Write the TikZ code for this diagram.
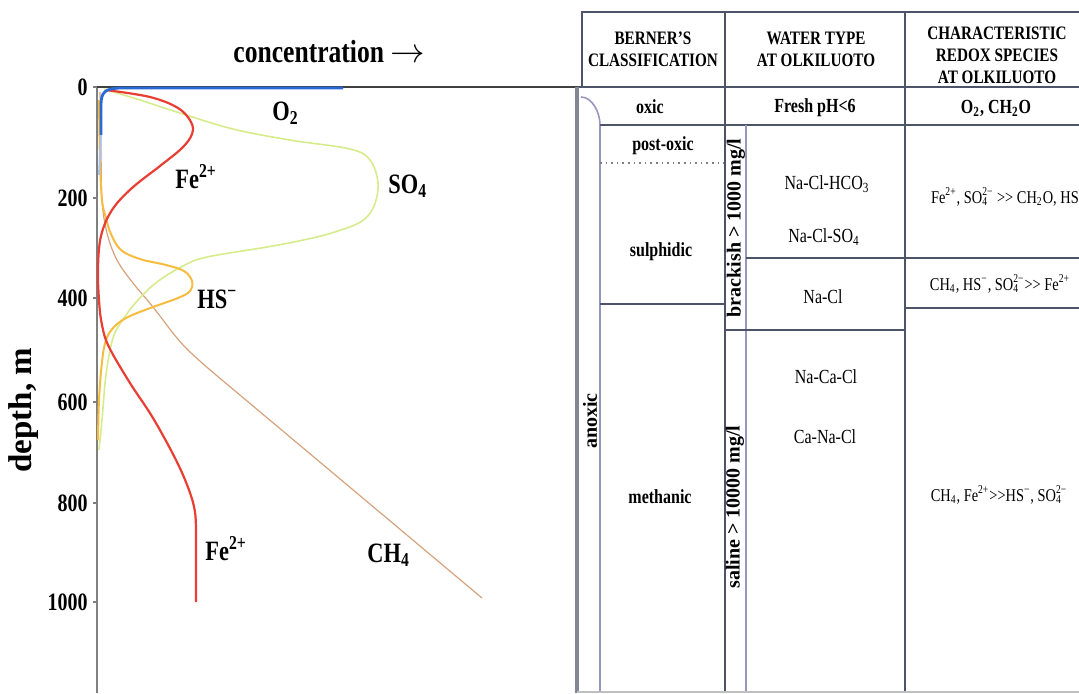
\documentclass[tikz,border=0pt]{standalone}
\usepackage{fontspec}
\setmainfont{Liberation Serif}[FakeStretch=0.8]
\newfontfamily\rotserif{Liberation Serif}

\definecolor{oxyblue}{RGB}{40,105,215}
\definecolor{ironred}{RGB}{232,62,52}
\definecolor{sulfgreen}{RGB}{214,236,140}
\definecolor{hsorange}{RGB}{246,188,64}
\definecolor{methtan}{RGB}{214,162,124}
\definecolor{gridline}{RGB}{78,84,104}
\definecolor{softline}{RGB}{150,150,190}

\newcommand{\supsub}[2]{\rlap{\textsubscript{#2}}\textsuperscript{#1}}
\newcommand{\ggt}{>{}>}

\begin{document}
\begin{tikzpicture}[x=0.5pt, y=-0.5pt,
    tbl/.style={draw=gridline, line width=1pt},
    softtbl/.style={draw=softline, line width=0.8pt},
    hdr/.style={font=\bfseries\fontsize{9.5}{11}\selectfont, align=center},
    cell/.style={font=\fontsize{10}{12}\selectfont},
    bcell/.style={font=\bfseries\fontsize{10}{12}\selectfont},
    rcell/.style={font=\fontsize{9}{11}\selectfont},
    vcell/.style={font=\rotserif\bfseries\fontsize{10}{12}\selectfont, rotate=90},
    species/.style={font=\bfseries\fontsize{14}{16}\selectfont, anchor=base west, inner sep=0pt},
    ticklbl/.style={font=\bfseries\fontsize{12.5}{14}\selectfont, anchor=east, inner sep=1pt}]

    \useasboundingbox (0,0) rectangle (1079,693);
    \clip (0,0) rectangle (1079,693);

    % axes of the profile plot
    \draw[gray, line width=0.8pt] (97,87) -- (97,693);
    \draw[black!75, line width=0.8pt] (97,87) -- (577,87);
    \foreach \d/\y in {0/87,200/198,400/298,600/402,800/503,1000/602}{
        \draw[gray, line width=0.8pt] (93,\y) -- (97,\y);
        \node[ticklbl] (tick\d) at (90,\y) {\d};
    }
    \node[font=\bfseries\fontsize{16}{19}\selectfont, anchor=base west, inner sep=0pt] (conc) at (233,62) {concentration $\rightarrow$};
    \node[font=\rotserif\bfseries\fontsize{16.5}{19}\selectfont, rotate=90] (depth) at (24,410) {depth, m};

    % concentration profiles
    \draw[methtan, line width=0.6pt] plot[smooth, tension=0.6] coordinates
        {(100,92) (101,150) (102,200) (107,233) (117,260) (133,283) (153,307) (185,347) (228,385)} -- (482,598);
    \draw[sulfgreen, line width=0.8pt] plot[smooth, tension=0.6] coordinates
        {(104,89) (140,100) (180,113) (233,129) (290,140) (350,149) (370,160) (378,183) (374,206) (362,221) (338,231) (308,239) (267,247) (207,257) (183,266) (157,282) (138,300) (124,318) (113,338) (106,375) (102,420) (99,450)};
    \draw[hsorange, line width=1pt] plot[smooth, tension=0.6] coordinates
        {(99,100) (100,160) (102,200) (106,218) (111,234) (121,250) (140,259) (166,265) (184,271) (192,281) (190,291) (178,298) (153,307) (128,317) (114,327) (106,340) (102,362) (99,400) (98,440)};
    \draw[ironred, line width=1.1pt] plot[smooth, tension=0.6] coordinates
        {(106,90) (150,97) (178,108) (191,122) (192,134) (182,148) (160,166) (132,188) (112,210) (101,236) (98,268) (99,300) (102,325) (109,347) (130,383) (153,418) (176,460) (189,490) (195,512) (196,535)} -- (196,602);
    \draw[oxyblue, line width=1.4pt] (343,88) -- (122,88) .. controls (105,88) and (101,92) .. (101,105) -- (101,135);
    \draw[oxyblue!40, line width=1pt] (101,135) -- (99,175);

    \node[species] (o2) at (272,120) {O\textsubscript{2}};
    \node[species] (fetop) at (175,188) {Fe\textsuperscript{2+}};
    \node[species] (so4) at (388,193) {SO\textsubscript{4}};
    \node[species] (hs) at (197,308) {HS\textsuperscript{−}};
    \node[species] (febot) at (205,560) {Fe\textsuperscript{2+}};
    \node[species] (ch4) at (367,562) {CH\textsubscript{4}};

    % redox table
    \draw[tbl] (582,87) -- (582,12) -- (1085,12);
    \draw[tbl] (577,87) -- (1085,87);
    \draw[draw=gridline!70, line width=2pt] (577,87) -- (577,693);
    \draw[softtbl] (581,97) .. controls (592,97) and (600,112) .. (600,125);
    \draw[softtbl] (600,125) -- (600,693);
    \draw[tbl] (600,125) -- (1085,125);
    \draw[gray, dotted, line width=0.8pt] (600,163) -- (725,163);
    \draw[tbl] (600,304) -- (725,304);
    \draw[tbl] (725,12) -- (725,693);
    \draw[softtbl] (746,125) -- (746,693);
    \draw[tbl] (746,258) -- (905,258);
    \draw[tbl] (725,330) -- (905,330);
    \draw[tbl] (905,12) -- (905,693);
    \draw[tbl] (905,258) -- (1085,258);
    \draw[tbl] (905,308) -- (1085,308);
    \draw[gray!50, line width=0.8pt] (577,692) -- (1085,692);

    \node[hdr] (hberner) at (653,49) {BERNER'S\\CLASSIFICATION};
    \node[hdr] (hwater) at (816,49) {WATER TYPE\\AT OLKILUOTO};
    \node[hdr] (hredox) at (997,55) {CHARACTERISTIC\\REDOX SPECIES\\AT OLKILUOTO};

    \node[bcell] (oxic) at (650,107) {oxic};
    \node[bcell] (fresh) at (815,108) {Fresh pH<6};
    \node[bcell] (redoxa) at (996,108) {O\textsubscript{2}, CH\textsubscript{2}O};

    \node[bcell] (postoxic) at (663,146) {post-oxic};
    \node[bcell] (sulphidic) at (661,252) {sulphidic};
    \node[bcell] (methanic) at (660,497) {methanic};
    \node[vcell] (anoxic) at (590,421) {anoxic};
    \node[vcell] (brackish) at (736,228) {brackish > 1000 mg/l};
    \node[vcell] (saline) at (735,507) {saline > 10000 mg/l};

    \node[cell] (nahco) at (827,184) {Na-Cl-HCO\textsubscript{3}};
    \node[cell] (naso) at (824,237) {Na-Cl-SO\textsubscript{4}};
    \node[cell] (nacl) at (823,297) {Na-Cl};
    \node[cell] (nacacl) at (826,377) {Na-Ca-Cl};
    \node[cell] (canacl) at (825,437) {Ca-Na-Cl};

    \node[rcell, anchor=west] (redoxb) at (924,197) {Fe\textsuperscript{2+}, SO\supsub{2−}{4} \ggt{} CH\textsubscript{2}O, HS\textsuperscript{−}};
    \node[rcell] (redoxc) at (1000,284) {CH\textsubscript{4}, HS\textsuperscript{−}, SO\supsub{2−}{4}\ggt{} Fe\textsuperscript{2+}};
    \node[rcell] (redoxd) at (999,495) {CH\textsubscript{4}, Fe\textsuperscript{2+}\ggt{}HS\textsuperscript{−}, SO\supsub{2−}{4}};

\end{tikzpicture}
\end{document}
